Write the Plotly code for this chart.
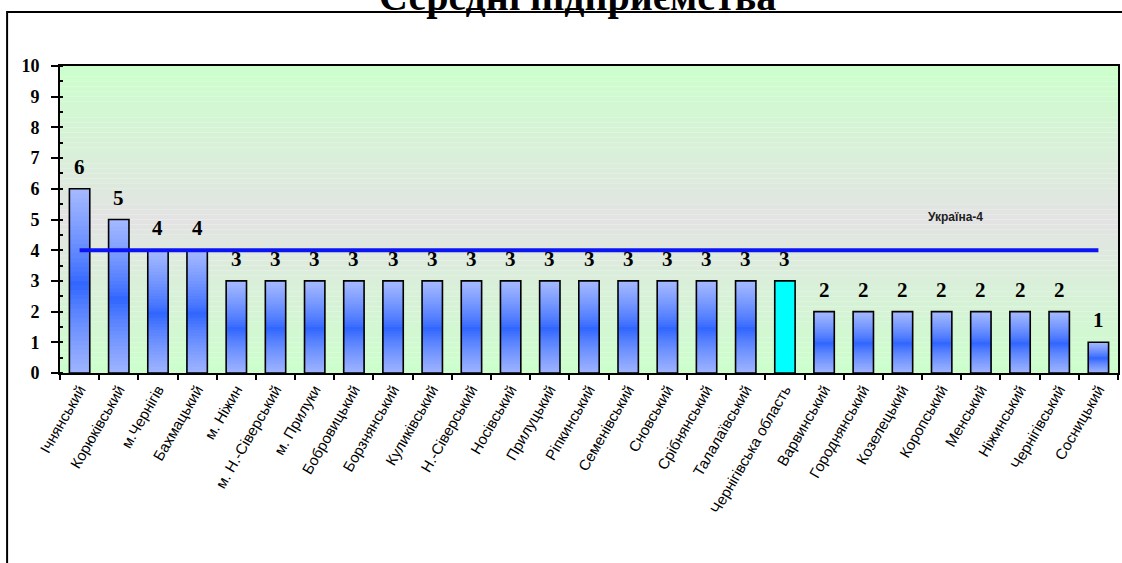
import plotly.graph_objects as go

categories = ["Ічнянський", "Корюківський", "м.Чернігів", "Бахмацький", "м. Ніжин",
              "м. Н.-Сіверський", "м. Прилуки", "Бобровицький", "Борзнянський",
              "Куликівський", "Н.-Сіверський", "Носівський", "Прилуцький",
              "Ріпкинський", "Семенівський", "Сновський", "Срібнянський",
              "Талалаївський", "Чернігівська область", "Варвинський",
              "Городнянський", "Козелецький", "Коропський", "Менський",
              "Ніжинський", "Чернігівський", "Сосницький"]
values = [6, 5, 4, 4, 3, 3, 3, 3, 3, 3, 3, 3, 3, 3, 3, 3, 3, 3, 3,
          2, 2, 2, 2, 2, 2, 2, 1]
ukraine_value = 4
ukraine_label = "Україна-4"
highlight = "Чернігівська область"
title_text = "Середні підприємства"

SERIF = "Times New Roman, Liberation Serif, serif"
SANS = "Arial, Liberation Sans, sans-serif"


def mix(c1, c2, t):
    return "rgb(%d,%d,%d)" % tuple(round(a + (b - a) * t) for a, b in zip(c1, c2))


LIGHT = (166, 186, 255)
DARK = (46, 100, 255)


def bar_color(frac):
    d = abs(frac - 0.48) / 0.52
    return mix(DARK, LIGHT, min(1.0, d ** 0.8))


fig = go.Figure()

N = 40
for k in range(N):
    scale = 1 - k / N
    frac = 1 - (k + 0.5) / N
    col = bar_color(frac)
    colors = ["#00ffff" if c == highlight else col for c in categories]
    fig.add_trace(go.Bar(
        x=categories, y=[v * scale for v in values],
        marker=dict(color=colors, line=dict(width=0)),
        width=0.52, opacity=1, hoverinfo="skip", showlegend=False))

fig.add_trace(go.Bar(
    x=categories, y=values, width=0.52,
    marker=dict(color="rgba(0,0,0,0)", line=dict(color="black", width=1.6)),
    hoverinfo="skip", showlegend=False))

fig.add_trace(go.Scatter(
    x=categories, y=[ukraine_value] * len(categories), mode="lines",
    line=dict(color="#0a14f5", width=4), hoverinfo="skip", showlegend=False))

annotations = []
for c, v in zip(categories, values):
    annotations.append(dict(
        x=c, y=v, xref="x", yref="y", text=str(v), showarrow=False,
        yanchor="middle", yshift=22,
        font=dict(family=SERIF, size=21, color="black", weight="bold")))

annotations.append(dict(
    x=22.35, y=5.08, xref="x", yref="y", text=ukraine_label, showarrow=False,
    font=dict(family=SANS, size=12, color="#202020", weight="bold")))

L, R, T, B = 60, 2, 66, 190
W, H = 1122, 563
pw, ph = W - L - R, H - T - B

annotations.append(dict(
    x=(578 - L) / pw, y=1 + (T - 21) / ph, xref="paper", yref="paper",
    xanchor="center", yanchor="bottom", text=title_text, showarrow=False,
    font=dict(family=SERIF, size=40, color="black", weight="bold")))

shapes = []
BG_G = (204, 255, 204)
BG_M = (227, 227, 227)
NB = 60
C = 0.5
for i in range(NB):
    f = (i + 0.5) / NB
    d = (C - f) / C if f < C else (f - C) / (1 - C)
    shapes.append(dict(type="rect", xref="x domain", yref="y domain",
                       x0=0, x1=1, y0=i / NB, y1=(i + 1) / NB,
                       fillcolor=mix(BG_M, BG_G, min(1, d)),
                       line=dict(width=0), layer="below"))

shapes.append(dict(type="rect", xref="paper", yref="paper",
                   x0=(7 - L) / pw, x1=1.2, y0=-1, y1=1 + (T - 12) / ph,
                   line=dict(color="black", width=2), fillcolor="rgba(0,0,0,0)",
                   layer="below"))

fig.update_layout(
    width=W, height=H,
    margin=dict(l=L, r=R, t=T, b=B),
    paper_bgcolor="white",
    plot_bgcolor="rgba(0,0,0,0)",
    barmode="overlay",
    showlegend=False,
    annotations=annotations,
    shapes=shapes,
    xaxis=dict(
        type="category", tickangle=-60, tickson="boundaries",
        ticks="outside", ticklen=5, tickcolor="black", tickwidth=1.5,
        showline=True, linecolor="black", linewidth=2, mirror=True,
        showgrid=False, range=[-0.5, len(categories) - 0.5],
        tickfont=dict(family=SANS, size=15, color="black")),
    yaxis=dict(
        range=[0, 10], dtick=1, tick0=0,
        ticks="outside", ticklen=7, tickcolor="black", tickwidth=1.5,
        ticklabelstandoff=8,
        minor=dict(dtick=0.5, ticks="inside", ticklen=3, tickcolor="black"),
        showline=True, linecolor="black", linewidth=2, mirror=True,
        showgrid=False, zeroline=False,
        tickfont=dict(family=SERIF, size=18, color="black", weight="bold")),
)

fig.write_html("out.html",
               config={"displayModeBar": False},
               post_script="document.body.style.margin='0';"
                           "document.body.style.overflow='hidden';")
